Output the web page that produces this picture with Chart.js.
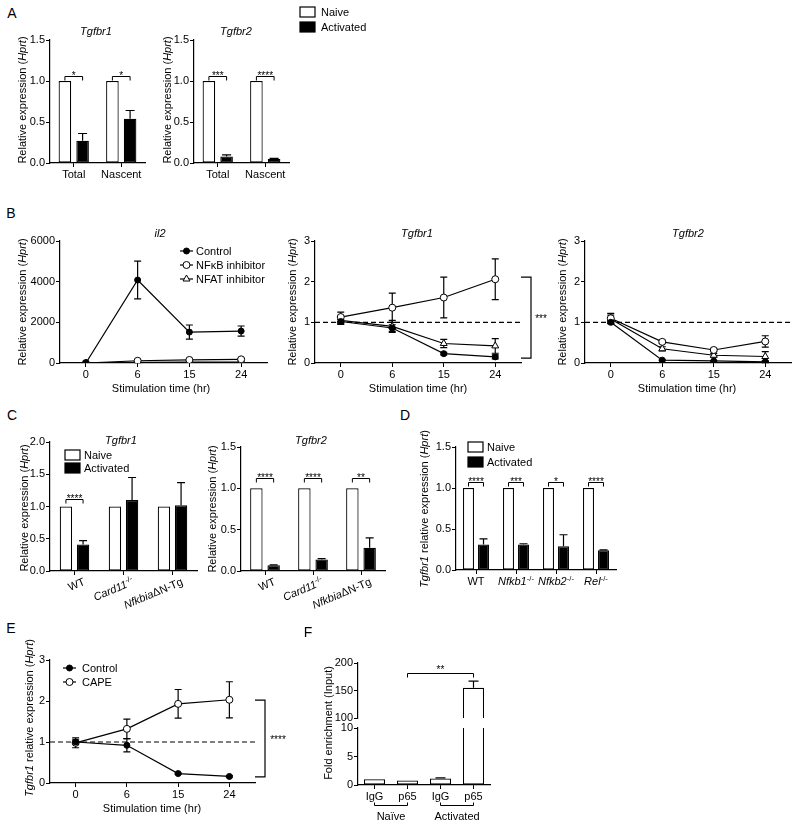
<!DOCTYPE html>
<html>
<head>
<meta charset="utf-8">
<script src="https://cdn.jsdelivr.net/npm/chart.js@4.4.0/dist/chart.umd.min.js"></script>
<style>
  body { margin: 0; background: #fff; width: 800px; height: 826px; position: relative; overflow: hidden;
         font-family: "Liberation Sans", Arial, sans-serif; }
  canvas { position: absolute; }
  .t { position: absolute; white-space: nowrap; font-size: 11px; color: #000; line-height: 1; transform: translate(-50%, -50%); }
  .ct { font-style: italic; }
  .pl { font-size: 14px; }
</style>
</head>
<body>
<script>
// ---- data ----
const timeLabels = ['0', '6', '15', '24'];

// A
const aGroups = ['Total', 'Nascent'];
const aTgfbr1Naive = [1, 1];
const aTgfbr1Act = [0.27, 0.54];
const aTgfbr1ActErr = [0.09, 0.1];
const aTgfbr2Naive = [1, 1];
const aTgfbr2Act = [0.08, 0.05];
const aTgfbr2ActErr = [0.02, 0.006];
const aTgfbr1Sig = ['*', '*'];
const aTgfbr2Sig = ['***', '****'];

// B
const il2Control = [0, 4080, 1520, 1570];
const il2ControlErr = [0, 930, 350, 250];
const il2Nfkb = [0, 110, 150, 180];
const il2NfkbErr = [0, 40, 40, 50];
const il2Nfat = [0, 30, 40, 50];
const il2NfatErr = [0, 10, 10, 10];

const bTgfbr1Control = [1.02, 0.86, 0.23, 0.15];
const bTgfbr1ControlErr = [0.05, 0.08, 0.03, 0.05];
const bTgfbr1Nfkb = [1.13, 1.36, 1.61, 2.06];
const bTgfbr1NfkbErr = [0.12, 0.36, 0.5, 0.5];
const bTgfbr1Nfat = [1.05, 0.9, 0.48, 0.42];
const bTgfbr1NfatErr = [0.1, 0.15, 0.1, 0.18];

const bTgfbr2Control = [1.0, 0.07, 0.05, 0.03];
const bTgfbr2ControlErr = [0.03, 0.01, 0.01, 0.02];
const bTgfbr2Nfkb = [1.1, 0.52, 0.32, 0.53];
const bTgfbr2NfkbErr = [0.12, 0.04, 0.04, 0.14];
const bTgfbr2Nfat = [1.08, 0.35, 0.19, 0.16];
const bTgfbr2NfatErr = [0.1, 0.05, 0.04, 0.12];

// C
const cGroups = ['WT', 'Card11-/-', 'NfkbiaΔN-Tg'];
const cTgfbr1Naive = [1, 1, 1];
const cTgfbr1Act = [0.41, 1.1, 1.02];
const cTgfbr1ActErr = [0.06, 0.35, 0.35];
const cTgfbr1Sig = ['****', '', ''];
const cTgfbr2Naive = [1, 1, 1];
const cTgfbr2Act = [0.07, 0.14, 0.28];
const cTgfbr2ActErr = [0.005, 0.01, 0.12];
const cTgfbr2Sig = ['****', '****', '**'];

// D
const dGroups = ['WT', 'Nfkb1-/-', 'Nfkb2-/-', 'Rel-/-'];
const dNaive = [1, 1, 1, 1];
const dAct = [0.31, 0.31, 0.29, 0.24];
const dActErr = [0.07, 0.01, 0.14, 0.005];
const dSig = ['****', '***', '*', '****'];

// E
const eControl = [1.0, 0.92, 0.23, 0.16];
const eControlErr = [0.05, 0.16, 0.02, 0.02];
const eCape = [0.98, 1.32, 1.93, 2.03];
const eCapeErr = [0.12, 0.24, 0.35, 0.44];

// F
const fLabels = ['IgG', 'p65', 'IgG', 'p65'];
const fGroups = ['Naïve', 'Activated'];
const fValues = [1.0, 0.8, 1.15, 155];
const fErr = [0, 0, 0.1, 12];

// ---- helpers ----
const FONT = '"Liberation Sans", Arial, sans-serif';
Chart.defaults.font.family = FONT;
Chart.defaults.color = '#000';
const cfont = (size, italic) => (italic ? 'italic ' : '') + size + 'px ' + FONT;

function text(html, x, y, cls) {
  const d = document.createElement('div');
  d.className = 't ' + (cls || '');
  d.innerHTML = html;
  d.style.left = x + 'px';
  d.style.top = y + 'px';
  document.body.appendChild(d);
}

function richParts(s) {
  if (s.endsWith('-/-')) return [{t: s.slice(0, -3), i: true}, {t: '-/-', sup: true}];
  const k = s.indexOf('Δ');
  if (k > 0) return [{t: s.slice(0, k), i: true}, {t: s.slice(k)}];
  return [{t: s}];
}

function drawRich(ctx, parts, x, y, align, size) {
  let w = 0;
  parts.forEach(p => {
    ctx.font = cfont(p.sup ? size * 0.7 : size, p.i);
    p.w = ctx.measureText(p.t).width;
    w += p.w;
  });
  let cx = align === 'right' ? x - w : align === 'center' ? x - w / 2 : x;
  ctx.textAlign = 'left';
  ctx.textBaseline = 'alphabetic';
  parts.forEach(p => {
    ctx.font = cfont(p.sup ? size * 0.7 : size, p.i);
    ctx.fillText(p.t, cx, p.sup ? y - size * 0.4 : y);
    cx += p.w;
  });
}

function marker(ctx, style, r, fill, x, y) {
  ctx.beginPath();
  if (style === 'triangle') {
    ctx.moveTo(x, y - r);
    ctx.lineTo(x + r * 0.866, y + r * 0.5);
    ctx.lineTo(x - r * 0.866, y + r * 0.5);
    ctx.closePath();
  } else {
    ctx.arc(x, y, r, 0, Math.PI * 2);
  }
  ctx.fillStyle = fill;
  ctx.fill();
  ctx.stroke();
}

// error bars, brackets, legends, rich labels, axis titles
function extras(o) {
  const ox = o.plot.x - o.pad.l, oy = o.plot.y - o.pad.t;
  return {
    id: 'extras',
    beforeDatasetsDraw(chart) {
      const ctx = chart.ctx, a = chart.chartArea, ys = chart.scales.y;
      ctx.save();
      ctx.strokeStyle = '#000';
      ctx.lineWidth = 1.2;
      if (o.hline != null) {
        const yy = ys.getPixelForValue(o.hline);
        ctx.setLineDash([5, 3]);
        ctx.beginPath();
        ctx.moveTo(a.left, yy);
        ctx.lineTo(a.right + 2, yy);
        ctx.stroke();
        ctx.setLineDash([]);
      }
      const cap = o.cap || 3.5;
      chart.data.datasets.forEach((ds, di) => {
        if (!ds.errors) return;
        chart.getDatasetMeta(di).data.forEach((el, i) => {
          const v = ds.data[i], e = ds.errors[i];
          if (!e || v > ys.max || v < ys.min) return;
          const hi = ys.getPixelForValue(v + e);
          const lo = ys.getPixelForValue(o.type === 'bar' ? v : v - e);
          ctx.beginPath();
          ctx.moveTo(el.x, lo);
          ctx.lineTo(el.x, hi);
          ctx.moveTo(el.x - cap, hi);
          ctx.lineTo(el.x + cap, hi);
          if (o.type !== 'bar') {
            ctx.moveTo(el.x - cap, lo);
            ctx.lineTo(el.x + cap, lo);
          }
          ctx.stroke();
        });
      });
      ctx.restore();
    },
    afterDraw(chart) {
      const ctx = chart.ctx, a = chart.chartArea, ys = chart.scales.y, xs = chart.scales.x;
      ctx.save();
      ctx.strokeStyle = '#000';
      ctx.fillStyle = '#000';
      ctx.lineWidth = 1;
      // rotated y-axis title
      if (o.ytitle) {
        ctx.save();
        ctx.translate(o.ytitle.x - ox, o.ytitle.y - oy);
        ctx.rotate(-Math.PI / 2);
        drawRich(ctx, o.ytitle.parts, 0, 4, 'center', 11);
        ctx.restore();
      }
      // significance over naive/activated pairs
      if (o.sig) {
        const m0 = chart.getDatasetMeta(0).data, m1 = chart.getDatasetMeta(1).data;
        const yy = Math.round(ys.getPixelForValue(o.sigLevel)) + 0.5;
        o.sig.forEach((t, i) => {
          if (!t) return;
          const x0 = m0[i].x, x1 = m1[i].x;
          ctx.beginPath();
          ctx.moveTo(x0, yy + 4); ctx.lineTo(x0, yy); ctx.lineTo(x1, yy); ctx.lineTo(x1, yy + 4);
          ctx.stroke();
          ctx.font = cfont(10);
          ctx.textAlign = 'center';
          ctx.textBaseline = 'alphabetic';
          ctx.fillText(t, (x0 + x1) / 2, yy + 2);
        });
      }
      // vertical bracket at the right of a line chart
      if (o.vbracket) {
        const b = o.vbracket;
        const yt = ys.getPixelForValue(b.top), yb = ys.getPixelForValue(b.bottom);
        const x0 = a.right, x1 = a.right + 10;
        ctx.lineWidth = 1.2;
        ctx.beginPath();
        ctx.moveTo(x0, yt); ctx.lineTo(x1, yt); ctx.lineTo(x1, yb); ctx.lineTo(x0, yb);
        ctx.stroke();
        ctx.font = cfont(10);
        ctx.textAlign = 'center';
        ctx.textBaseline = 'middle';
        ctx.fillText(b.text, x1 + b.tx, (yt + yb) / 2 + 2);
        ctx.lineWidth = 1;
      }
      // bracket spanning two categories (F)
      if (o.span) {
        const s = o.span;
        const x0 = xs.getPixelForValue(s.from), x1 = xs.getPixelForValue(s.to);
        const yy = Math.round(ys.getPixelForValue(s.level)) + 0.5;
        ctx.beginPath();
        ctx.moveTo(x0, yy + 4); ctx.lineTo(x0, yy); ctx.lineTo(x1, yy); ctx.lineTo(x1, yy + 4);
        ctx.stroke();
        ctx.font = cfont(10);
        ctx.textAlign = 'center';
        ctx.textBaseline = 'alphabetic';
        ctx.fillText(s.text, (x0 + x1) / 2, yy - 1);
      }
      // group brackets under the x axis (F)
      if (o.groups) {
        o.groups.forEach((g, gi) => {
          const x0 = xs.getPixelForValue(gi * 2), x1 = xs.getPixelForValue(gi * 2 + 1);
          const yy = a.bottom + 20.5;
          ctx.beginPath();
          ctx.moveTo(x0, yy - 3); ctx.lineTo(x0, yy); ctx.lineTo(x1, yy); ctx.lineTo(x1, yy - 3);
          ctx.stroke();
          ctx.font = cfont(11);
          ctx.textAlign = 'center';
          ctx.textBaseline = 'alphabetic';
          ctx.fillText(g, (x0 + x1) / 2, yy + 14);
        });
      }
      // rich x labels (italics, superscripts, rotation)
      if (o.rich) {
        chart.data.labels.forEach((lab, i) => {
          const x = xs.getPixelForValue(i);
          const parts = richParts(lab);
          if (o.rich === 'rot') {
            ctx.save();
            ctx.translate(x + 8, a.bottom + 6);
            ctx.rotate(-23 * Math.PI / 180);
            drawRich(ctx, parts, 0, 8, 'right', 11);
            ctx.restore();
          } else {
            drawRich(ctx, parts, x, a.bottom + 15, 'center', 11);
          }
        });
      }
      // legend
      if (o.legend) {
        const L = o.legend;
        chart.data.datasets.forEach((ds, i) => {
          const x = a.left + L.dx, y = a.top + L.dy + i * L.row;
          ctx.lineWidth = 1.2;
          if (o.type === 'bar') {
            ctx.fillStyle = ds.backgroundColor;
            ctx.fillRect(x, y - 5, 15, 10);
            ctx.strokeRect(x, y - 5, 15, 10);
          } else {
            ctx.beginPath();
            ctx.moveTo(x, y); ctx.lineTo(x + 13, y);
            ctx.stroke();
            ctx.lineWidth = 1;
            marker(ctx, ds.pointStyle, ds.pointRadius, ds.pointBackgroundColor, x + 6.5, y);
          }
          ctx.fillStyle = '#000';
          ctx.font = cfont(11);
          ctx.textAlign = 'left';
          ctx.textBaseline = 'middle';
          ctx.fillText(ds.label, x + L.tx, y + 0.5);
        });
      }
      ctx.restore();
    }
  };
}

function build(o) {
  const p = o.plot, pad = o.pad;
  const c = document.createElement('canvas');
  c.width = p.w + pad.l + pad.r;
  c.height = p.h + pad.t + pad.b;
  c.style.left = (p.x - pad.l) + 'px';
  c.style.top = (p.y - pad.t) + 'px';
  document.body.appendChild(c);
  const showX = o.xAxis !== false;
  return new Chart(c, {
    type: o.type,
    data: {labels: o.labels, datasets: o.datasets},
    options: {
      responsive: false,
      animation: false,
      devicePixelRatio: 1,
      events: [],
      layout: {padding: {left: 0, top: pad.t, right: pad.r, bottom: 0}},
      plugins: {legend: {display: false}, tooltip: {enabled: false}},
      datasets: {
        bar: {categoryPercentage: o.cat || 0.75, barPercentage: o.bar || 0.72, borderColor: '#000',
              borderWidth: 1.2, borderSkipped: false, clip: 0},
        line: {borderColor: '#000', borderWidth: 1.2, tension: 0, pointBorderColor: '#000', pointBorderWidth: 1}
      },
      scales: {
        x: {
          offset: true,
          grid: {display: showX, offset: false, drawOnChartArea: false, tickLength: 4, color: '#000', lineWidth: 1},
          border: {display: showX, color: '#000', width: 1.2},
          ticks: {display: showX && !o.rich, color: '#000', font: {size: 11}, padding: 1, maxRotation: 0, autoSkip: false},
          afterFit: s => { s.height = pad.b; }
        },
        y: {
          min: o.y[0], max: o.y[1],
          grid: {drawOnChartArea: false, tickLength: 4, color: '#000', lineWidth: 1},
          border: {color: '#000', width: 1.2},
          ticks: {stepSize: o.y[2], color: '#000', font: {size: 11}, padding: 1,
                  callback: v => o.fmt ? v.toFixed(o.fmt) : String(v)},
          afterFit: s => { s.width = pad.l; }
        }
      }
    },
    plugins: [extras(o)]
  });
}

const barSets = (naive, act, err) => [
  {label: 'Naive', data: naive, backgroundColor: '#fff'},
  {label: 'Activated', data: act, errors: err, backgroundColor: '#000'}
];
const ctrl = (data, err) => ({label: 'Control', data, errors: err, pointStyle: 'circle', pointRadius: 3, pointBackgroundColor: '#000', backgroundColor: '#000'});
const openC = (label, data, err) => ({label, data, errors: err, pointStyle: 'circle', pointRadius: 3.5, pointBackgroundColor: '#fff', backgroundColor: '#fff'});
const openT = (label, data, err) => ({label, data, errors: err, pointStyle: 'triangle', pointRadius: 4, pointBackgroundColor: '#fff', backgroundColor: '#fff'});

const relY = [{t: 'Relative expression ('}, {t: 'Hprt', i: true}, {t: ')'}];
const relT = [{t: 'Tgfbr1', i: true}, {t: ' relative expression ('}, {t: 'Hprt', i: true}, {t: ')'}];
const foldY = [{t: 'Fold enrichment (Input)'}];

// ---- A ----
build({type: 'bar', plot: {x: 50, y: 40, w: 95, h: 123}, pad: {l: 36, t: 10, r: 5, b: 22},
  labels: aGroups, datasets: barSets(aTgfbr1Naive, aTgfbr1Act, aTgfbr1ActErr), y: [0, 1.5, 0.5], fmt: 1,
  xTicks: true, cat: 0.745, bar: 0.71, cap: 4.5, sig: aTgfbr1Sig, sigLevel: 1.06,
  ytitle: {parts: relY, x: 22, y: 100}});
build({type: 'bar', plot: {x: 194, y: 40, w: 95, h: 123}, pad: {l: 36, t: 40, r: 80, b: 22},
  labels: aGroups, datasets: barSets(aTgfbr2Naive, aTgfbr2Act, aTgfbr2ActErr), y: [0, 1.5, 0.5], fmt: 1,
  xTicks: true, cat: 0.745, bar: 0.71, cap: 4.5, sig: aTgfbr2Sig, sigLevel: 1.06,
  legend: {dx: 106, dy: -28, row: 15, tx: 21}, ytitle: {parts: relY, x: 167, y: 100}});

// ---- B ----
build({type: 'line', plot: {x: 60, y: 241, w: 207, h: 122}, pad: {l: 46, t: 10, r: 6, b: 20},
  labels: timeLabels, y: [0, 6000, 2000],
  datasets: [ctrl(il2Control, il2ControlErr), openC('NFκB inhibitor', il2Nfkb, il2NfkbErr), openT('NFAT inhibitor', il2Nfat, il2NfatErr)],
  legend: {dx: 120, dy: 10, row: 14, tx: 16}, ytitle: {parts: relY, x: 22, y: 302}});
build({type: 'line', plot: {x: 315, y: 241, w: 206, h: 122}, pad: {l: 31, t: 10, r: 40, b: 20},
  labels: timeLabels, y: [0, 3, 1], hline: 1,
  datasets: [ctrl(bTgfbr1Control, bTgfbr1ControlErr), openC('NFκB inhibitor', bTgfbr1Nfkb, bTgfbr1NfkbErr), openT('NFAT inhibitor', bTgfbr1Nfat, bTgfbr1NfatErr)],
  vbracket: {top: 2.11, bottom: 0.12, text: '***', tx: 10}, ytitle: {parts: relY, x: 292, y: 302}});
build({type: 'line', plot: {x: 585, y: 241, w: 206, h: 122}, pad: {l: 31, t: 10, r: 9, b: 20},
  labels: timeLabels, y: [0, 3, 1], hline: 1,
  datasets: [ctrl(bTgfbr2Control, bTgfbr2ControlErr), openC('NFκB inhibitor', bTgfbr2Nfkb, bTgfbr2NfkbErr), openT('NFAT inhibitor', bTgfbr2Nfat, bTgfbr2NfatErr)],
  ytitle: {parts: relY, x: 562, y: 302}});

// ---- C ----
build({type: 'bar', plot: {x: 50, y: 442, w: 147, h: 129}, pad: {l: 34, t: 10, r: 5, b: 45},
  labels: cGroups, datasets: barSets(cTgfbr1Naive, cTgfbr1Act, cTgfbr1ActErr), y: [0, 2, 0.5], fmt: 1,
  rich: 'rot', cat: 0.7, bar: 0.72, cap: 4, sig: cTgfbr1Sig, sigLevel: 1.12,
  legend: {dx: 15, dy: 13, row: 13, tx: 19}, ytitle: {parts: relY, x: 24, y: 508}});
build({type: 'bar', plot: {x: 241, y: 447, w: 144, h: 124}, pad: {l: 37, t: 10, r: 5, b: 45},
  labels: cGroups, datasets: barSets(cTgfbr2Naive, cTgfbr2Act, cTgfbr2ActErr), y: [0, 1.5, 0.5], fmt: 1,
  rich: 'rot', cat: 0.72, bar: 0.72, cap: 4, sig: cTgfbr2Sig, sigLevel: 1.12,
  ytitle: {parts: relY, x: 212, y: 509}});

// ---- D ----
build({type: 'bar', plot: {x: 456, y: 447, w: 160, h: 123}, pad: {l: 40, t: 22, r: 5, b: 24},
  labels: dGroups, datasets: barSets(dNaive, dAct, dActErr), y: [0, 1.5, 0.5], fmt: 1,
  rich: 'flat', cat: 0.75, bar: 0.73, cap: 4, sig: dSig, sigLevel: 1.07,
  legend: {dx: 12, dy: 0, row: 15, tx: 19}, ytitle: {parts: relT, x: 424, y: 509}});

// ---- E ----
build({type: 'line', plot: {x: 50, y: 660, w: 205, h: 123}, pad: {l: 29, t: 24, r: 40, b: 20},
  labels: timeLabels, y: [0, 3, 1], hline: 1,
  datasets: [ctrl(eControl, eControlErr), openC('CAPE', eCape, eCapeErr)],
  vbracket: {top: 2.02, bottom: 0.15, text: '****', tx: 13},
  legend: {dx: 13, dy: 8, row: 14, tx: 19}, ytitle: {parts: relT, x: 29, y: 718}});

// ---- F (broken axis: two stacked charts) ----
build({type: 'bar', plot: {x: 358, y: 663, w: 132, h: 55}, pad: {l: 30, t: 14, r: 5, b: 8},
  labels: fLabels, datasets: [{label: 'F', data: fValues, errors: fErr, backgroundColor: '#fff'}],
  y: [100, 200, 50], xAxis: false, cat: 1, bar: 0.64, cap: 5,
  span: {from: 1, to: 3, level: 182, text: '**'}});
build({type: 'bar', plot: {x: 358, y: 728, w: 132, h: 57}, pad: {l: 38, t: 66, r: 5, b: 41},
  labels: fLabels, datasets: [{label: 'F', data: fValues, errors: fErr, backgroundColor: '#fff'}],
  y: [0, 10, 5], xTicks: true, cat: 1, bar: 0.64, cap: 5, groups: fGroups,
  ytitle: {parts: foldY, x: 328, y: 723}});

// ---- text ----
text('A', 12, 13, 'pl'); text('B', 11, 213, 'pl'); text('C', 12, 415, 'pl');
text('D', 405, 415, 'pl'); text('E', 11, 628, 'pl'); text('F', 308, 632, 'pl');

text('Tgfbr1', 96, 31, 'ct'); text('Tgfbr2', 236, 31, 'ct');
text('il2', 160, 233, 'ct'); text('Tgfbr1', 417, 233, 'ct'); text('Tgfbr2', 688, 233, 'ct');
text('Tgfbr1', 121, 440, 'ct'); text('Tgfbr2', 311, 440, 'ct');

text('Stimulation time (hr)', 161, 388); text('Stimulation time (hr)', 418, 388);
text('Stimulation time (hr)', 687, 388); text('Stimulation time (hr)', 152, 808);
</script>
</body>
</html>
